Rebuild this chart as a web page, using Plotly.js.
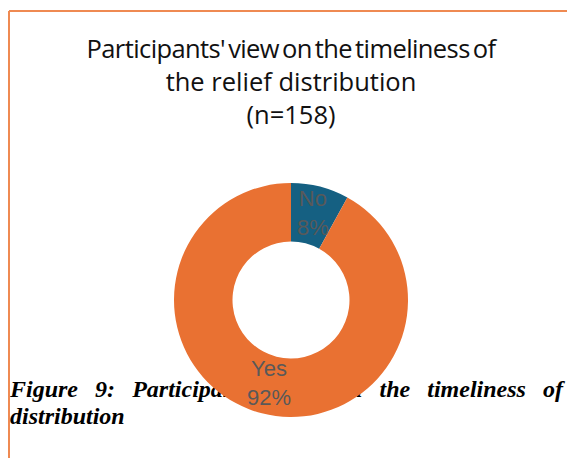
<!DOCTYPE html>
<html>
<head>
<meta charset="utf-8">
<script src="https://cdn.plot.ly/plotly-3.0.1.min.js"></script>
<style>
  html, body { margin: 0; padding: 0; background: #ffffff; }
  #wrap { position: relative; width: 567px; height: 458px; overflow: hidden; }
  #caption {
    position: absolute; left: 10px; top: 376px; width: 553px;
    font-family: "Liberation Serif", "Times New Roman", serif;
    font-weight: bold; font-style: italic; font-size: 24px; line-height: 27px;
    color: #000; text-align: justify; z-index: 0;
  }
  #chart { position: absolute; left: 0; top: 0; width: 567px; height: 458px; z-index: 1; }
  #chart .gtitle tspan.line:first-child { word-spacing: -3px; letter-spacing: -0.6px; }
</style>
</head>
<body>
<div id="wrap">
  <div id="caption">Figure 9: Participants' view on the timeliness of distribution</div>
  <div id="chart"></div>
</div>
<script>
const categories = ["No", "Yes"];
const percentages = [8, 92];
const sliceColors = ["#156082", "#E97132"];
const titleLines = ["Participants' view on the timeliness of", "the relief distribution", "(n=158)"];

const W = 567, H = 458;
const cx = 291, cy = 300, R = 117, holeFrac = 0.5;

const trace = {
  type: "pie",
  labels: categories,
  values: percentages,
  sort: false,
  direction: "clockwise",
  rotation: 0,
  hole: holeFrac,
  marker: { colors: sliceColors, line: { width: 0 } },
  textinfo: "none",
  hoverinfo: "label+percent",
  showlegend: false,
  domain: {
    x: [(cx - R) / W, (cx + R) / W],
    y: [(H - cy - R) / H, (H - cy + R) / H]
  }
};

// Data labels at the middle of each ring segment, derived from the values
const total = percentages.reduce((a, b) => a + b, 0);
const rMid = R * (1 + holeFrac) / 2;
let cum = 0;
const annotations = categories.map((c, i) => {
  const frac = percentages[i] / total;
  const mid = (cum + frac / 2) * 2 * Math.PI;
  cum += frac;
  const px = cx + rMid * Math.sin(mid);
  const py = cy - rMid * Math.cos(mid);
  return {
    xref: "paper", yref: "paper",
    x: px / W, y: (H - py + 2) / H,
    xanchor: "center", yanchor: "middle",
    showarrow: false,
    text: c + "<br>" + Math.round(frac * 100) + "%",
    font: { family: "Liberation Sans", size: 22, color: "#595959" }
  };
});

const borderColor = "#EF8A52";
const layout = {
  width: W, height: H,
  margin: { l: 0, r: 0, t: 0, b: 0 },
  paper_bgcolor: "rgba(0,0,0,0)",
  plot_bgcolor: "rgba(0,0,0,0)",
  showlegend: false,
  title: {
    text: titleLines.join("<br>"),
    font: { family: "Open Sans", size: 25.5, color: "#111111" },
    x: 291 / W, xanchor: "center",
    y: 1 - 58 / H, yanchor: "top",
    yref: "container"
  },
  annotations: annotations,
  shapes: [
    { type: "line", xref: "paper", yref: "paper", x0: 9 / W, x1: 9 / W, y0: 0, y1: 1 - 11 / H,
      line: { color: borderColor, width: 2 } },
    { type: "line", xref: "paper", yref: "paper", x0: 9 / W, x1: 1, y0: 1 - 11 / H, y1: 1 - 11 / H,
      line: { color: borderColor, width: 2 } }
  ]
};

Plotly.newPlot("chart", [trace], layout, { displayModeBar: false, staticPlot: true });
</script>
</body>
</html>
